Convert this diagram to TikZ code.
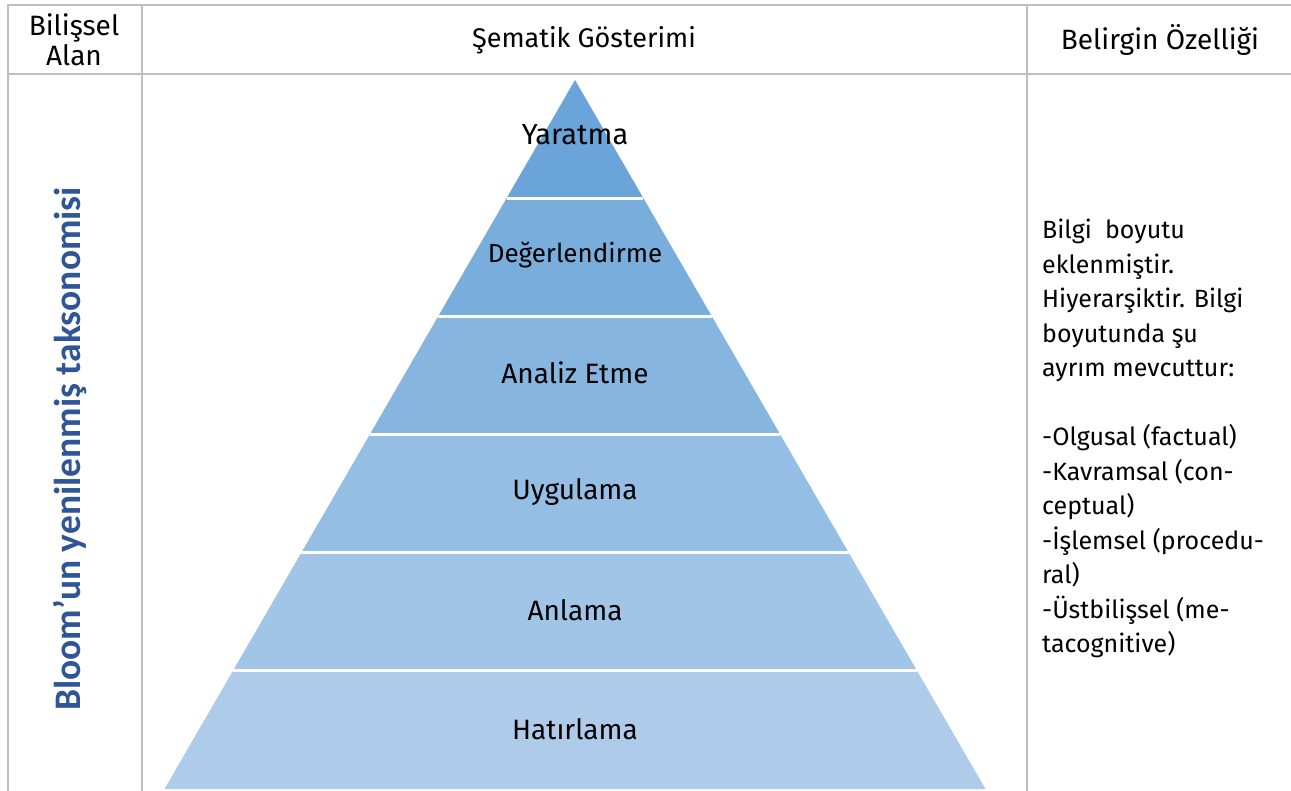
\documentclass[tikz,border=0pt]{standalone}
\usepackage{fontspec}
\setmainfont{Fira Sans}
\newfontfamily\calibrifont{Carlito}
\usetikzlibrary{calc}
\definecolor{gridgray}{RGB}{191,191,191}
\definecolor{titleblue}{RGB}{47,85,151}
\definecolor{layerA}{RGB}{106,164,216}
\definecolor{layerB}{RGB}{120,173,220}
\definecolor{layerC}{RGB}{134,181,223}
\definecolor{layerD}{RGB}{148,190,227}
\definecolor{layerE}{RGB}{161,197,230}
\definecolor{layerF}{RGB}{174,204,233}
\begin{document}
\begin{tikzpicture} [x=1pt, y=-1pt,
        gridline/.style={draw=gridgray, line width=2pt},
        gap/.style={draw=white, line width=3pt},
        headtext/.style={font=\fontsize{28}{30}\selectfont, align=center},
        layertext/.style={font=\fontsize{28}{30}\selectfont},
        righttext/.style={font=\fontsize{25}{34.5}\selectfont, align=left, inner sep=0pt}]

            \useasboundingbox (0,0) rectangle (1291,791);

            % table lines
            \draw[gridline] (7,5) -- (1291,5);
            \draw[gridline] (7,74) -- (1291,74);
            \draw[gridline] (8,4) -- (8,791);
            \draw[gridline] (142,4) -- (142,791);
            \draw[gridline] (1027,4) -- (1027,791);

            % header
            \node[headtext] (alan) at (74,40) {Bilişsel\\Alan};
            \node[headtext, font=\fontsize{27}{30}\selectfont] (sema) at (584,40) {Şematik Gösterimi};
            \node[headtext] (ozel) at (1160,40) {Belirgin Özelliği};

            % left column
            \node[rotate=90, text=titleblue, font=\calibrifont\bfseries\fontsize{37.5}{40}\selectfont] (domain) at (70,449) {Bloom’un yenilenmiş taksonomisi};

            % pyramid
            \coordinate (apex) at (575,80);
            \coordinate (bl) at (164.5,789);
            \coordinate (br) at (985.5,789);

            \fill[layerA] (apex) -- ($(apex)!1/6!(br)$) -- ($(apex)!1/6!(bl)$) -- cycle;
            \fill[layerB] ($(apex)!1/6!(bl)$) -- ($(apex)!1/6!(br)$) -- ($(apex)!2/6!(br)$) -- ($(apex)!2/6!(bl)$) -- cycle;
            \fill[layerC] ($(apex)!2/6!(bl)$) -- ($(apex)!2/6!(br)$) -- ($(apex)!3/6!(br)$) -- ($(apex)!3/6!(bl)$) -- cycle;
            \fill[layerD] ($(apex)!3/6!(bl)$) -- ($(apex)!3/6!(br)$) -- ($(apex)!4/6!(br)$) -- ($(apex)!4/6!(bl)$) -- cycle;
            \fill[layerE] ($(apex)!4/6!(bl)$) -- ($(apex)!4/6!(br)$) -- ($(apex)!5/6!(br)$) -- ($(apex)!5/6!(bl)$) -- cycle;
            \fill[layerF] ($(apex)!5/6!(bl)$) -- ($(apex)!5/6!(br)$) -- (br) -- (bl) -- cycle;

            \draw[gap] ($(apex)!1/6!(bl)$) -- ($(apex)!1/6!(br)$);
            \draw[gap] ($(apex)!2/6!(bl)$) -- ($(apex)!2/6!(br)$);
            \draw[gap] ($(apex)!3/6!(bl)$) -- ($(apex)!3/6!(br)$);
            \draw[gap] ($(apex)!4/6!(bl)$) -- ($(apex)!4/6!(br)$);
            \draw[gap] ($(apex)!5/6!(bl)$) -- ($(apex)!5/6!(br)$);

            \node[layertext, font=\fontsize{29}{30}\selectfont] (yaratma) at (575,135) {Yaratma};
            \node[layertext, font=\fontsize{26}{30}\selectfont] (deger) at (575,255) {Değerlendirme};
            \node[layertext] (analiz) at (575,373) {Analiz Etme};
            \node[layertext] (uygula) at (575,492) {Uygulama};
            \node[layertext] (anlama) at (575,610) {Anlama};
            \node[layertext] (hatir) at (575,729) {Hatırlama};

            % right column
            \node[righttext, anchor=north west] (bilgi) at (1042,219) {Bilgi\ \ boyutu\\eklenmiştir.\\Hiyerarşiktir. Bilgi\\boyutunda şu\\ayrım mevcuttur:\\\mbox{}\\-Olgusal (factual)\\-Kavramsal (con-\\ceptual)\\-İşlemsel (procedu-\\ral)\\-Üstbilişsel (me-\\tacognitive)};
        \end{tikzpicture}
\end{document}
